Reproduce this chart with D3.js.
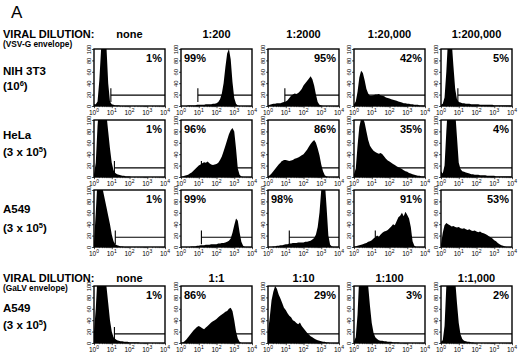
<!DOCTYPE html>
<html>
<head>
<meta charset="utf-8">
<script src="https://cdn.jsdelivr.net/npm/d3@7"></script>
<style>
	body { margin: 0; background: #fff; }
	svg { display: block; font-family: "Liberation Sans", Arial, Helvetica, sans-serif; }
</style>
</head>
<body>
<div id="chart"></div>
<script>
// header / row labels
const vsvDilutions = ["none", "1:200", "1:2000", "1:20,000", "1:200,000"]
const galvDilutions = ["none", "1:1", "1:10", "1:100", "1:1,000"]
const envelopes = ["(VSV-G envelope)", "(GaLV envelope)"]
const cellLines = ["NIH 3T3", "HeLa", "A549", "A549"]
const cellCountBase = ["(10", "(3 x 10", "(3 x 10", "(3 x 10"]
const cellCountExp = ["6", "5", "5", "5"]

// percent positive per panel
const nih3t3Percents = ["1%", "99%", "95%", "42%", "5%"]
const helaPercents = ["1%", "96%", "86%", "35%", "4%"]
const a549Percents = ["1%", "99%", "98%", "91%", "53%"]
const a549GalvPercents = ["1%", "86%", "29%", "3%", "2%"]

// axis ticks
const yTicks = [0, 20, 40, 60, 80, 100]
const xTickExps = ["0", "1", "2", "3", "4"]

// channel positions of histogram bins (log10 of fluorescence)
const binExps = [0, 0.1, 0.2, 0.3, 0.4, 0.5, 0.6, 0.7, 0.8, 0.9,
	1, 1.1, 1.2, 1.3, 1.4, 1.5, 1.6, 1.7, 1.8, 1.9,
	2, 2.1, 2.2, 2.3, 2.4, 2.5, 2.6, 2.7, 2.8, 2.9,
	3, 3.1, 3.2, 3.3, 3.4, 3.5, 3.6, 3.7, 3.8, 3.9, 4]

// relative cell counts per bin
const nih3t3Counts = [
	[3, 3, 8, 45, 100, 130, 130, 105, 40, 8, 3, 2, 1, 1, 1, 0, 0, 0, 0, 0, 0, 0, 0, 0, 0, 0, 0, 0, 0, 0, 0, 0, 0, 0, 0, 0, 0, 0, 0, 0, 0],
	[0, 0, 0, 0, 1, 1, 1, 1, 1, 2, 2, 2, 2, 2, 3, 3, 3, 3, 4, 4, 5, 7, 12, 22, 40, 68, 92, 100, 82, 42, 14, 4, 1, 0, 0, 0, 0, 0, 0, 0, 0],
	[1, 2, 3, 4, 4, 5, 5, 5, 6, 7, 8, 10, 14, 18, 20, 22, 21, 23, 26, 30, 36, 40, 44, 48, 52, 47, 36, 20, 7, 2, 1, 0, 0, 0, 0, 0, 0, 0, 0, 0, 0],
	[3, 8, 25, 50, 62, 58, 45, 30, 22, 18, 18, 19, 20, 20, 21, 19, 18, 17, 15, 14, 13, 12, 11, 10, 9, 8, 7, 6, 5, 5, 4, 4, 3, 3, 2, 2, 2, 1, 1, 1, 0],
	[2, 4, 15, 60, 120, 130, 115, 70, 30, 12, 7, 6, 5, 5, 4, 4, 4, 3, 3, 3, 3, 3, 2, 2, 2, 2, 2, 2, 2, 2, 1, 1, 1, 1, 1, 1, 1, 1, 1, 1, 0]
]
const helaCounts = [
	[5, 25, 90, 130, 130, 130, 125, 110, 80, 50, 25, 12, 7, 5, 4, 3, 2, 2, 1, 1, 1, 0, 0, 0, 0, 0, 0, 0, 0, 0, 0, 0, 0, 0, 0, 0, 0, 0, 0, 0, 0],
	[0, 1, 2, 3, 4, 6, 8, 11, 14, 17, 20, 22, 24, 26, 25, 27, 24, 22, 21, 22, 23, 25, 30, 36, 45, 55, 65, 75, 82, 86, 80, 50, 15, 4, 1, 0, 0, 0, 0, 0, 0],
	[1, 3, 6, 10, 14, 18, 22, 25, 28, 30, 30, 29, 28, 29, 30, 32, 33, 34, 36, 38, 40, 44, 48, 53, 58, 62, 65, 60, 50, 38, 22, 10, 3, 1, 0, 0, 0, 0, 0, 0, 0],
	[5, 15, 55, 88, 102, 104, 95, 80, 65, 55, 50, 46, 44, 42, 41, 42, 40, 36, 32, 29, 27, 25, 23, 21, 19, 17, 16, 14, 12, 10, 9, 7, 6, 5, 4, 3, 2, 2, 1, 1, 0],
	[10, 6, 20, 80, 130, 130, 130, 125, 115, 70, 25, 14, 10, 9, 8, 7, 6, 5, 5, 4, 4, 4, 3, 3, 3, 3, 2, 2, 2, 2, 2, 1, 1, 1, 1, 1, 1, 1, 1, 1, 0]
]
const a549Counts = [
	[8, 60, 120, 125, 120, 100, 85, 70, 55, 40, 22, 10, 5, 3, 2, 1, 1, 0, 0, 0, 0, 0, 0, 0, 0, 0, 0, 0, 0, 0, 0, 0, 0, 0, 0, 0, 0, 0, 0, 0, 0],
	[0, 0, 0, 0, 0, 0, 1, 1, 1, 2, 2, 3, 3, 3, 4, 4, 4, 5, 5, 5, 5, 6, 6, 7, 7, 8, 9, 11, 15, 25, 38, 50, 46, 26, 9, 2, 0, 0, 0, 0, 0],
	[0, 0, 0, 1, 1, 2, 2, 3, 3, 4, 5, 5, 6, 6, 7, 7, 7, 8, 8, 8, 8, 9, 9, 10, 11, 13, 16, 22, 35, 60, 100, 120, 115, 70, 20, 4, 1, 0, 0, 0, 0],
	[0, 1, 2, 3, 4, 5, 6, 7, 9, 10, 12, 15, 17, 20, 18, 22, 25, 27, 28, 30, 33, 36, 40, 38, 45, 52, 55, 60, 54, 62, 56, 50, 35, 10, 2, 0, 0, 0, 0, 0, 0],
	[5, 25, 38, 42, 40, 38, 36, 37, 35, 34, 35, 33, 32, 33, 31, 30, 31, 29, 28, 29, 27, 26, 27, 25, 24, 23, 21, 19, 17, 15, 12, 10, 7, 5, 3, 2, 1, 0, 0, 0, 0]
]
const a549GalvCounts = [
	[20, 60, 120, 130, 130, 130, 125, 100, 70, 40, 20, 10, 7, 5, 4, 3, 3, 2, 2, 2, 1, 1, 1, 1, 1, 1, 0, 0, 0, 0, 0, 0, 0, 0, 0, 0, 0, 0, 0, 0, 0],
	[0, 1, 3, 6, 10, 14, 18, 22, 25, 28, 30, 28, 26, 24, 27, 30, 33, 36, 38, 40, 42, 45, 48, 50, 52, 55, 56, 60, 62, 56, 40, 20, 8, 2, 0, 0, 0, 0, 0, 0, 0],
	[20, 45, 75, 90, 100, 95, 85, 78, 70, 62, 58, 52, 48, 45, 40, 38, 35, 33, 36, 30, 26, 22, 18, 15, 12, 10, 8, 6, 5, 4, 3, 2, 2, 1, 1, 0, 0, 0, 0, 0, 0],
	[3, 10, 50, 120, 130, 130, 130, 125, 100, 65, 35, 18, 10, 7, 5, 4, 4, 3, 3, 2, 2, 2, 1, 1, 1, 1, 0, 0, 0, 0, 0, 0, 0, 0, 0, 0, 0, 0, 0, 0, 0],
	[2, 5, 30, 100, 130, 130, 130, 130, 110, 70, 35, 15, 7, 4, 3, 2, 2, 1, 1, 0, 0, 0, 0, 0, 0, 0, 0, 0, 0, 0, 0, 0, 0, 0, 0, 0, 0, 0, 0, 0, 0]
]

// marker gate start (log10) and level (% of max) per panel
const nih3t3Gates = [0.95, 0.95, 0.95, 0.6, 0.95]
const helaGates = [1.15, 1.15, 0.8, 0.6, 0.9]
const a549Gates = [1.2, 1.15, 1.2, 1.2, 0.9]
const a549GalvGates = [1.15, 1.0, 0.8, 0.9, 0.9]
const gateLevels = [19, 16, 17, 16]

const rowCounts = [nih3t3Counts, helaCounts, a549Counts, a549GalvCounts]
const rowPercents = [nih3t3Percents, helaPercents, a549Percents, a549GalvPercents]
const rowGates = [nih3t3Gates, helaGates, a549Gates, a549GalvGates]

// layout
const width = 520
const height = 357
const colLefts = [94, 181, 268, 354, 441]
const rowTops = [49, 120, 190, 286]
const panelW = 71
const panelH = 57
const labelBaselines = [[75, 90], [139, 156], [213, 232], [312, 329]]
const percentsLeft = [[1], [1], [1, 2], [1]]

const svg = d3.select("#chart")
	.append("svg")
	.attr("width", width)
	.attr("height", height)

svg.append("rect").attr("width", width).attr("height", height).attr("fill", "#fff")

svg.append("text")
	.attr("x", 11)
	.attr("y", 18)
	.attr("font-size", 17)
	.text("A")

// dilution headers
const headers = [
	{ y: 38, dil: vsvDilutions, env: envelopes[0] },
	{ y: 282, dil: galvDilutions, env: envelopes[1] }
]
headers.forEach((h) => {
	svg.append("text")
		.attr("x", 3)
		.attr("y", h.y)
		.attr("font-size", 11)
		.attr("font-weight", "bold")
		.text("VIRAL DILUTION:")
	svg.append("text")
		.attr("x", 3)
		.attr("y", h.y + 9)
		.attr("font-size", 8.3)
		.attr("font-weight", "bold")
		.text(h.env)
	h.dil.forEach((d, i) => {
		svg.append("text")
			.attr("x", colLefts[i] + panelW / 2)
			.attr("y", h.y)
			.attr("text-anchor", "middle")
			.attr("font-size", 11)
			.attr("font-weight", "bold")
			.text(d)
	})
})

// row labels
cellLines.forEach((name, r) => {
	svg.append("text")
		.attr("x", 3)
		.attr("y", labelBaselines[r][0])
		.attr("font-size", 11.5)
		.attr("font-weight", "bold")
		.text(name)
	const t = svg.append("text")
		.attr("x", 3)
		.attr("y", labelBaselines[r][1])
		.attr("font-size", 11.5)
		.attr("font-weight", "bold")
	t.append("tspan").text(cellCountBase[r])
	t.append("tspan").attr("dy", -4).attr("font-size", 7.5).text(cellCountExp[r])
	t.append("tspan").attr("dy", 4).text(")")
})

const x = d3.scaleLog().domain([1, 1e4]).range([0, panelW])
const y = d3.scaleLinear().domain([0, 100]).range([panelH, 0])

const area = d3.area()
	.x((d) => x(Math.pow(10, d.e)))
	.y0(panelH)
	.y1((d) => y(d.v))

const minorTicks = []
for (let dec = 1; dec < 1e4; dec *= 10) {
	for (let k = 2; k < 10; k++) minorTicks.push(dec * k)
}

function drawPanel(r, c) {
	const g = svg.append("g")
		.attr("transform", `translate(${colLefts[c]},${rowTops[r]})`)
	const clipId = `clip-${r}-${c}`

	g.append("defs")
		.append("clipPath")
		.attr("id", clipId)
		.append("rect")
		.attr("width", panelW)
		.attr("height", panelH)

	const plot = g.append("g").attr("clip-path", `url(#${clipId})`)

	// gate marker (drawn under the histogram)
	const gx = x(Math.pow(10, rowGates[r][c]))
	const gy = y(gateLevels[r])
	plot.append("line")
		.attr("x1", gx).attr("x2", panelW)
		.attr("y1", gy).attr("y2", gy)
		.attr("stroke", "#000").attr("stroke-width", 1.1)
	plot.append("line")
		.attr("x1", gx).attr("x2", gx)
		.attr("y1", y(gateLevels[r] - 12)).attr("y2", y(gateLevels[r] + 12))
		.attr("stroke", "#000").attr("stroke-width", 1.1)

	const data = binExps.map((e, i) => ({ e: e, v: rowCounts[r][c][i] }))
	plot.append("path")
		.datum(data)
		.attr("fill", "#000")
		.attr("d", area)

	// y axis
	const yAxis = g.append("g")
		.call(d3.axisLeft(y).tickValues(yTicks).tickSize(2).tickPadding(1))
	yAxis.select(".domain").remove()
	yAxis.selectAll("line").attr("stroke-width", 0.7)
	yAxis.selectAll("text")
		.attr("transform", "rotate(-90)")
		.attr("x", 0)
		.attr("y", -3.5)
		.attr("dy", 0)
		.attr("text-anchor", "middle")
		.attr("font-family", "Liberation Sans, Arial, sans-serif")
		.attr("font-size", 5.8)

	// x axis
	const xAxis = g.append("g")
		.attr("transform", `translate(0,${panelH})`)
		.call(d3.axisBottom(x).tickValues([1, 10, 100, 1000, 10000]).tickSize(2.2).tickFormat(""))
	xAxis.select(".domain").remove()
	xAxis.selectAll("line").attr("stroke-width", 0.7)
	xAxis.selectAll(".minor")
		.data(minorTicks)
		.join("line")
		.attr("class", "minor")
		.attr("x1", (d) => x(d)).attr("x2", (d) => x(d))
		.attr("y1", 0).attr("y2", 1.2)
		.attr("stroke", "#000").attr("stroke-width", 0.5)
	xTickExps.forEach((ex, i) => {
		const t = g.append("text")
			.attr("x", x(Math.pow(10, i)))
			.attr("y", panelH + 9)
			.attr("text-anchor", "middle")
			.attr("font-size", 6.5)
		t.append("tspan").text("10")
		t.append("tspan").attr("dy", -2.8).attr("font-size", 5).text(ex)
	})

	// frame
	g.append("rect")
		.attr("width", panelW)
		.attr("height", panelH)
		.attr("fill", "none")
		.attr("stroke", "#000")
		.attr("stroke-width", 1.4)

	const onLeft = percentsLeft[r].includes(c)
	g.append("text")
		.attr("x", onLeft ? 3 : panelW - 3)
		.attr("y", 13)
		.attr("text-anchor", onLeft ? "start" : "end")
		.attr("font-size", 11)
		.attr("font-weight", "bold")
		.text(rowPercents[r][c])
}

rowTops.forEach((_, r) => {
	colLefts.forEach((_, c) => drawPanel(r, c))
})
</script>
</body>
</html>
